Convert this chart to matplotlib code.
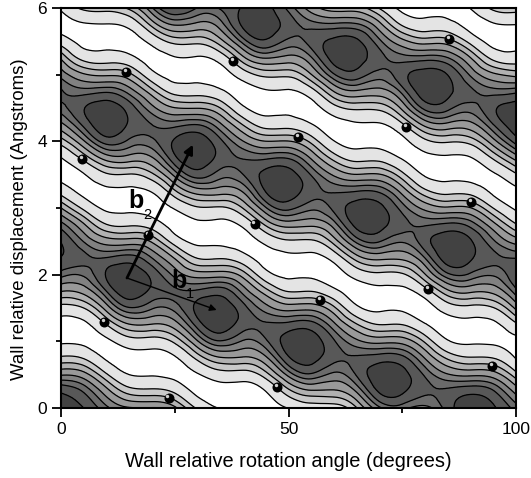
#!/usr/bin/env python3
"""Potential energy contour map: wall rotation angle vs wall displacement."""
import matplotlib
matplotlib.use("Agg")
import matplotlib.pyplot as plt
import matplotlib.tri as mtri
import numpy as np

plt.rcParams["font.family"] = ["Liberation Sans", "DejaVu Sans"]

ANGLE = [0, 5, 10, 15, 20, 25, 30, 35, 40, 45, 50, 55, 60, 65, 70, 75, 80, 85, 90, 95, 100]
DISPL = [0, .25, .5, .75, 1, 1.25, 1.5, 1.75, 2, 2.25, 2.5, 2.75, 3, 3.25, 3.5, 3.75,
         4, 4.25, 4.5, 4.75, 5, 5.25, 5.5, 5.75, 6]

# contour level read at each grid node, one line per angle column (y = 0 .. 6)
DEPTH = [
    [7.9, 7.0, 4.5, 1.75, -.2, -.47, .95, 3.57, 5.77, 7.1, 7.1, 5.77, 3.57, .95, -.47, -.05, 2.04, 4.3, 5.87, 6.3, 5.13, 3.39, .82, -.5, .18],
    [7.15, 6.1, 4.0, 1.4, -.3, -.3, 1.5, 3.95, 5.6, 6.42, 5.4, 3.7, 1.2, -.36, -.1, 1.9, 4.47, 6.43, 7.1, 5.8, 3.7, 1.05, -.43, -.16, 1.81],
    [5.65, 4.0, 1.67, -.2, -.3, 1.5, 4.05, 6.2, 7.25, 6.25, 4.1, 1.55, -.25, -.35, 1.31, 4.03, 6.61, 7.9, 7.75, 6.05, 3.37, .8, -.5, -.07, 1.97],
    [4.7, 2.1, 0, -.5, .84, 3.46, 6.13, 7.77, 7.9, 6.6, 4.03, 1.31, -.33, -.3, 1.4, 4.15, 6.0, 7.0, 6.7, 5.1, 2.85, .42, -.55, .42, 2.8],
    [4.67, 1.88, -.1, -.49, .87, 3.47, 5.55, 6.88, 6.85, 5.45, 3.38, .8, -.5, .1, 2.3, 4.5, 6.0, 6.2, 4.9, 2.93, .5, -.55, .46, 2.89, 5.35],
    [3.8, 1.25, -.38, -.17, 1.78, 4.1, 5.77, 6.35, 5.2, 3.46, .86, -.49, .13, 2.36, 4.9, 6.9, 7.3, 5.9, 3.6, 1.0, -.45, -.1, 1.9, 4.68, 7.05],
    [1.28, -.37, -.13, 1.86, 4.5, 6.6, 7.45, 6.37, 4.1, 1.45, -.27, -.33, 1.33, 4.07, 6.63, 7.9, 7.78, 6.2, 3.5, .9, -.48, -.13, 1.87, 4.3, 6.15],
    [-.05, -.5, .84, 3.43, 6.13, 7.77, 7.9, 6.7, 4.15, 1.4, -.3, -.33, 1.31, 4.03, 5.8, 6.8, 6.42, 4.8, 2.56, .27, -.55, .65, 3.15, 5.05, 6.3],
    [-.05, -.5, .83, 3.4, 5.36, 6.65, 6.57, 5.17, 3.1, .6, -.53, .3, 2.6, 4.7, 6.18, 6.14, 4.64, 2.5, .25, -.55, .72, 3.27, 5.77, 7.36, 7.26],
    [-.45, 0, 2.1, 4.38, 6.03, 6.32, 5.0, 3.0, .56, -.52, .37, 2.73, 5.35, 7.2, 7.49, 6.04, 3.57, .95, -.46, -.14, 1.85, 4.64, 6.97, 7.8, 7.48],
    [.05, 2.2, 4.9, 7.0, 7.65, 6.5, 4.15, 1.45, -.28, -.35, 1.3, 4.0, 6.45, 7.7, 7.6, 6.13, 3.6, .97, -.45, -.15, 1.83, 4.24, 5.98, 6.7, 5.95],
    [.8, 3.36, 6.05, 7.55, 7.7, 6.6, 4.25, 1.5, -.27, -.36, 1.28, 3.8, 5.65, 6.63, 6.14, 4.47, 2.25, .1, -.55, .93, 3.5, 5.35, 6.54, 5.82, 4.1],
    [.82, 3.36, 5.23, 6.48, 6.3, 4.86, 2.77, .38, -.55, .55, 3.0, 5.05, 6.44, 6.1, 4.44, 2.14, .05, -.55, .98, 3.6, 6.1, 7.6, 7.42, 5.65, 2.98],
    [2.5, 4.73, 6.3, 6.35, 4.83, 2.66, .3, -.55, .57, 3.05, 5.7, 7.5, 7.65, 6.2, 3.6, 1.0, -.45, -.18, 1.76, 4.46, 6.7, 7.63, 7.34, 5.6, 3.0],
    [5.28, 7.3, 7.8, 6.67, 4.27, 1.5, -.26, -.38, 1.2, 3.85, 6.25, 7.54, 7.46, 6.06, 3.64, 1.0, -.44, -.14, 1.85, 4.2, 5.85, 6.52, 5.64, 3.9, 1.4],
    [5.74, 7.33, 7.55, 6.47, 4.2, 1.5, -.26, -.33, 1.31, 3.8, 5.55, 6.5, 5.85, 4.22, 1.88, -.12, -.37, 1.27, 3.83, 5.75, 6.8, 5.8, 3.9, 1.35, -.35],
    [5.2, 6.39, 6.06, 4.54, 2.36, .14, -.55, .86, 3.46, 5.46, 6.75, 6.1, 4.3, 1.83, -.15, -.4, 1.18, 3.86, 6.46, 7.8, 7.6, 5.83, 3.09, .6, -.52],
    [6.64, 6.43, 4.7, 2.36, .13, -.55, .74, 3.29, 5.99, 7.72, 7.85, 6.4, 3.73, 1.08, -.42, -.22, 1.65, 4.3, 6.46, 7.43, 7.13, 5.5, 3.0, .53, -.53],
    [7.92, 6.85, 4.38, 1.62, -.22, -.41, 1.1, 3.75, 6.02, 7.3, 7.27, 5.9, 3.6, .98, -.45, -.08, 1.95, 4.25, 5.84, 6.38, 5.32, 3.6, 1.05, -.42, .04],
    [7.32, 6.3, 4.1, 1.48, -.27, -.3, 1.42, 3.87, 5.56, 6.42, 5.6, 3.94, 1.48, -.27, -.2, 1.68, 4.2, 6.17, 6.95, 5.8, 3.8, 1.15, -.4, -.15, 1.83],
    [5.85, 4.25, 1.95, -.08, -.38, 1.22, 3.82, 5.9, 7.06, 6.17, 4.17, 1.62, -.22, -.35, 1.3, 4.0, 6.6, 7.9, 7.7, 5.95, 3.2, .7, -.52, 0, 2.1],
]

LEVELS = [-2, 0, 1.5, 2.55, 3.55, 4.6, 5.45, 6.2, 7.15, 9]
GRAYS = ["#ffffff", "#e4e4e4", "#c9c9c9", "#b1b1b1", "#999999", "#818181", "#6b6b6b", "#585858", "#424242"]

ATOM_X = [23.7, 47.5, 94.7, 9.5, 56.9, 80.7, 19.1, 42.6, 90.1, 4.6, 52.1, 75.8, 14.3, 37.8, 85.3]
ATOM_Y = [.15, .31, .63, 1.29, 1.62, 1.78, 2.59, 2.76, 3.09, 3.73, 4.06, 4.22, 5.04, 5.2, 5.53]

ORIGIN = (14.5, 1.95)
B1_TIP = (34.2, 1.47)
B2_TIP = (29, 3.95)

fig = plt.figure(figsize=(5.31, 4.78), dpi=100)
ax = fig.add_axes([61 / 531, 1 - 408 / 478, 455 / 531, 400 / 478])

xx, yy = np.meshgrid(ANGLE, DISPL)
z = np.array(DEPTH).T
# smooth the drawn contours the way matplotlib's tricontour demos do
grid = mtri.Triangulation(xx.ravel(), yy.ravel())
fine, fine_z = mtri.UniformTriRefiner(grid).refine_field(z.ravel(), subdiv=3)
ax.tricontourf(fine, fine_z, levels=LEVELS, colors=GRAYS)
ax.tricontour(fine, fine_z, levels=LEVELS[1:-1], colors="black", linewidths=0.9)

ax.scatter(ATOM_X, ATOM_Y, s=52, color="black", zorder=4, linewidths=0)
ax.scatter(np.array(ATOM_X) - 0.3, np.array(ATOM_Y) + 0.03, s=6, color="#d0d0d0", zorder=5, linewidths=0)

ax.annotate("", xy=B2_TIP, xytext=ORIGIN, zorder=6,
            arrowprops=dict(arrowstyle="-|>", color="black", lw=2, mutation_scale=13, shrinkA=0, shrinkB=0))
ax.annotate("", xy=B1_TIP, xytext=ORIGIN, zorder=6,
            arrowprops=dict(arrowstyle="-|>", color="black", lw=1, mutation_scale=10, shrinkA=0, shrinkB=0))

ax.text(14.7, 3.0, "b", fontsize=18, fontweight="bold", ha="left", va="baseline", zorder=7)
ax.text(18, 2.835, "2", fontsize=10.5, ha="left", va="baseline", zorder=7)
ax.text(24.2, 1.8, "b", fontsize=18, fontweight="bold", ha="left", va="baseline", zorder=7)
ax.text(27.5, 1.65, "1", fontsize=10.5, ha="left", va="baseline", zorder=7)

ax.set_xlim(0, 100)
ax.set_ylim(0, 6)
ax.set_xticks([0, 50, 100])
ax.set_xticks([25, 75], minor=True)
ax.set_yticks([0, 2, 4, 6])
ax.set_yticks([1, 3, 5], minor=True)
ax.tick_params(which="major", length=6.5, width=1.3, labelsize=12.5)
ax.tick_params(which="minor", length=3.6, width=1.3)
for side in ax.spines.values():
    side.set_linewidth(1.5)
ax.set_xlabel("Wall relative rotation angle (degrees)", fontsize=14.4, labelpad=11)
ax.set_ylabel("Wall relative displacement (Angstroms)", fontsize=13.4)
ax.yaxis.set_label_coords(-0.073, 0.4725)

fig.savefig("out.png", dpi=100, facecolor="white")
